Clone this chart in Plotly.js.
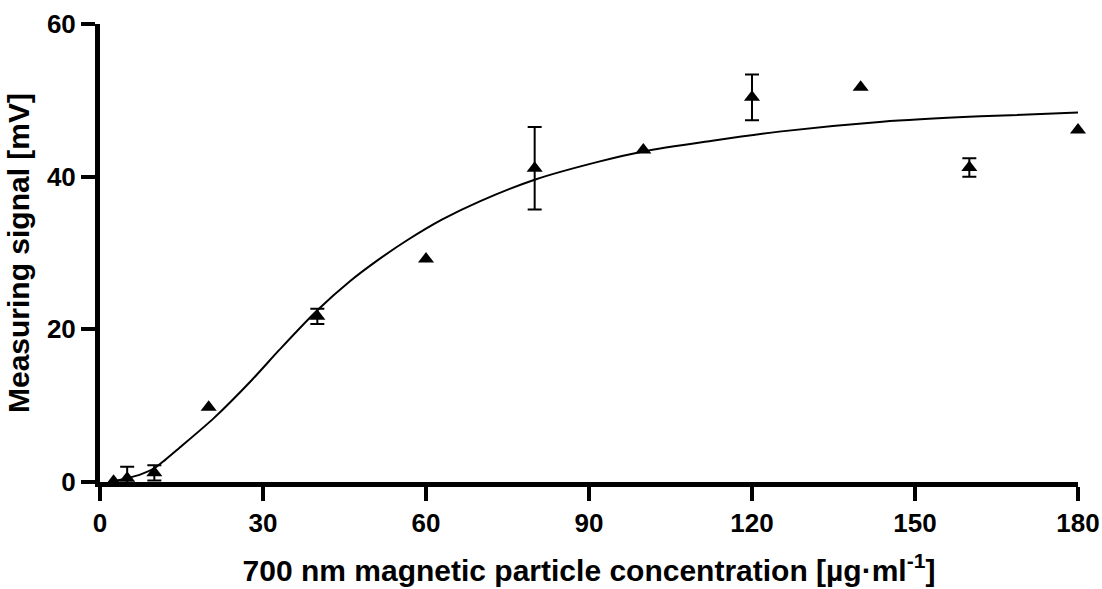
<!DOCTYPE html>
<html>
<head>
<meta charset="utf-8">
<script src="https://cdn.plot.ly/plotly-3.0.1.min.js"></script>
<style>html,body{margin:0;padding:0;background:#fff;}#chart{width:1102px;height:589px;}</style>
</head>
<body>
<div id="chart"></div>
<script>
// Measured points
var concentration = [2.5, 5, 10, 20, 40, 60, 80, 100, 120, 140, 160, 180];
var signal = [0.1, 0.5, 1.2, 9.8, 21.7, 29.2, 41.1, 43.5, 50.4, 51.7, 41.2, 46.1];
var signalErr = [0, 1.5, 1.0, 0, 1.0, 0, 5.4, 0, 3.0, 0, 1.2, 0];

// Fitted curve
var fitX = [2.5, 5, 7.5, 10, 12, 14.5, 21, 28, 33, 40, 46, 51, 56.6, 63, 70, 80, 92, 100, 112.7, 125, 144, 162, 180];
var fitY = [0.1, 0.5, 1.0, 1.8, 2.9, 4.4, 8.4, 13.4, 17.3, 22.5, 26.3, 29.0, 31.7, 34.4, 36.8, 39.6, 42.0, 43.3, 44.7, 45.9, 47.2, 47.9, 48.4];

var xTicks = [0, 30, 60, 90, 120, 150, 180];
var yTicks = [0, 20, 40, 60];

var FONT = '"Liberation Sans", Arial, sans-serif';

// split points with / without error bars
var errX = [], errY = [], errV = [], plainX = [], plainY = [];
concentration.forEach(function (c, i) {
  if (signalErr[i] > 0) { errX.push(c); errY.push(signal[i]); errV.push(signalErr[i]); }
  else { plainX.push(c); plainY.push(signal[i]); }
});

var traces = [
  {
    x: fitX, y: fitY, mode: 'lines', type: 'scatter',
    line: {color: '#000', width: 2, shape: 'spline', smoothing: 0.8},
    hoverinfo: 'skip', showlegend: false, cliponaxis: false
  },
  {
    x: plainX, y: plainY, mode: 'markers', type: 'scatter',
    marker: {symbol: 'triangle-up', size: 14, color: '#000'},
    showlegend: false, cliponaxis: false
  },
  {
    x: errX, y: errY, mode: 'markers', type: 'scatter',
    marker: {symbol: 'triangle-up', size: 14, color: '#000'},
    error_y: {type: 'data', array: errV, visible: true, color: '#000', thickness: 2, width: 7},
    showlegend: false, cliponaxis: false
  }
];

var layout = {
  width: 1102, height: 589,
  margin: {l: 100, r: 24, t: 24, b: 107},
  paper_bgcolor: '#fff', plot_bgcolor: '#fff',
  font: {family: FONT, color: '#000'},
  showlegend: false,
  xaxis: {
    range: [0, 180], tickvals: xTicks, ticktext: xTicks.map(String),
    showgrid: false, zeroline: false,
    showline: true, linecolor: '#000', linewidth: 5,
    ticks: 'outside', ticklen: 14, tickwidth: 4, tickcolor: '#000',
    tickfont: {family: FONT, size: 26, color: '#000', weight: 'bold'},
    title: {text: '<b>700 nm magnetic particle concentration [µg·ml<sup>-1</sup>]</b>', font: {family: FONT, size: 30, color: '#000'}, standoff: 24},
    automargin: false
  },
  yaxis: {
    range: [0, 60], tickvals: yTicks, ticktext: yTicks.map(String),
    showgrid: false, zeroline: false,
    showline: true, linecolor: '#000', linewidth: 5,
    ticks: 'outside', ticklen: 14, tickwidth: 4, tickcolor: '#000',
    tickfont: {family: FONT, size: 26, color: '#000', weight: 'bold'},
    title: {text: '<b>Measuring signal [mV]</b>', font: {family: FONT, size: 30, color: '#000'}, standoff: 10},
    automargin: false
  }
};

Plotly.newPlot('chart', traces, layout, {displayModeBar: false, staticPlot: true});
</script>
</body>
</html>
